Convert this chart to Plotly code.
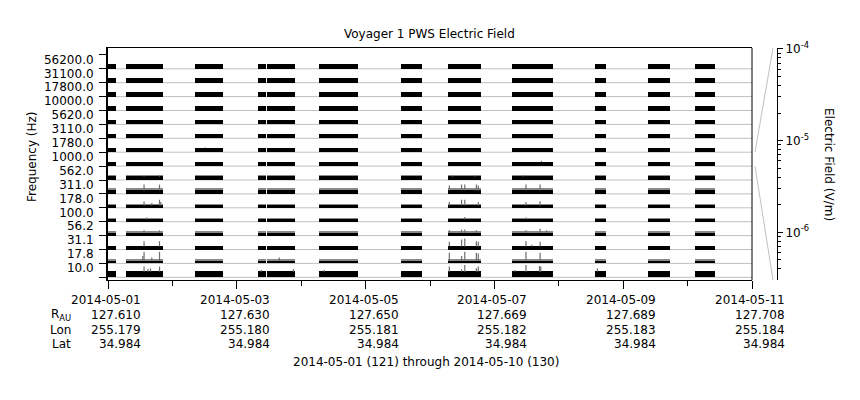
import numpy as np
import pandas as pd
import plotly.graph_objects as go

# ---------------- data ----------------
T0 = pd.Timestamp("2014-05-01")
T_END = pd.Timestamp("2014-05-11")

channels = ["10.0", "17.8", "31.1", "56.2", "100.0", "178.0", "311.0", "562.0",
            "1000.0", "1780.0", "3110.0", "5620.0", "10000.0", "17800.0", "31100.0", "56200.0"]

# data coverage intervals (days after 2014-05-01)
seg_start = [0.00, 0.28, 1.35, 2.33, 2.47, 3.28, 4.55, 5.28, 6.27, 7.56, 8.39, 9.11]
seg_end = [0.12, 0.85, 1.78, 2.45, 2.91, 3.88, 4.87, 5.79, 6.91, 7.74, 8.72, 9.43]

# typical (dense, black) electric field level per channel, V/m
band_level = [4.1e-6, 9.1e-7, 1.23e-6, 1.1e-6, 9.1e-7, 9.1e-7, 1.55e-6, 1.46e-6,
              1.84e-6, 1.84e-6, 1.84e-6, 1.84e-6, 1.84e-6, 1.84e-6, 1.84e-6, 1.84e-6]
# upper envelope of the noisy (gray) part, V/m (0 = none)
fuzz_level = [0, 2.2e-6, 0, 1.37e-6, 1.37e-6, 1.64e-6, 2.6e-6, 1.84e-6,
              0, 0, 0, 0, 0, 0, 0, 0]

# peaks (day after 2014-05-01, V/m) per channel
spikes_10_0 = [(0.56, 2.7e-5), (0.62, 1.0e-5), (0.66, 1.3e-5), (0.80, 2.7e-5), (2.38, 6.6e-6),
               (2.88, 1.0e-5), (3.36, 6.6e-6), (5.30, 2.7e-5), (5.49, 8.9e-6), (5.54, 5.4e-5),
               (5.72, 1.3e-5), (5.75, 2.7e-5), (6.32, 6.6e-6), (6.49, 5.4e-5), (6.70, 3.4e-5),
               (6.72, 2.7e-5), (7.60, 1.3e-5)]
spikes_17_8 = [(0.54, 6.6e-6), (0.56, 4.0e-5), (0.68, 3.7e-6), (0.80, 4.0e-5), (2.66, 3.7e-6),
               (5.30, 2.7e-5), (5.49, 6.6e-6), (5.54, 4.0e-5), (5.72, 2.7e-5), (5.75, 2.0e-5),
               (6.49, 4.0e-5), (6.71, 2.7e-5)]
spikes_31_1 = [(0.56, 1.0e-5), (0.80, 1.0e-5), (5.30, 7.4e-6), (5.49, 2.0e-5), (5.54, 3.0e-5),
               (5.72, 1.0e-5), (5.75, 7.4e-6), (6.49, 1.0e-5), (6.58, 2.2e-6), (6.71, 7.4e-6)]
spikes_56_2 = [(0.56, 2.8e-6), (0.80, 2.8e-6), (5.30, 2.8e-6), (5.49, 3.7e-6), (5.54, 3.7e-6),
               (5.72, 2.8e-6), (6.49, 2.8e-6), (6.71, 5.6e-6), (6.81, 2.8e-6)]
spikes_100 = [(0.60, 1.8e-6), (5.54, 2.2e-6), (6.49, 1.8e-6)]
spikes_178 = [(0.56, 4.4e-6), (0.68, 2.2e-6), (0.80, 8.9e-6), (0.82, 3.3e-6), (5.30, 3.3e-6),
              (5.49, 8.9e-6), (5.54, 8.9e-6), (5.75, 3.3e-6), (6.49, 3.3e-6), (6.71, 4.9e-6)]
spikes_311 = [(0.56, 1.5e-5), (0.80, 1.5e-5), (5.30, 1.0e-5), (5.49, 1.5e-5), (5.54, 1.5e-5),
              (5.72, 1.5e-5), (5.75, 1.0e-5), (6.49, 1.5e-5), (6.71, 1.5e-5)]
spikes_562 = [(0.56, 2.2e-6), (0.80, 2.2e-6), (5.35, 2.2e-6), (5.70, 2.2e-6), (6.45, 2.2e-6)]
spikes_1000 = [(6.73, 2.8e-6)]
spikes_1780 = [(1.51, 2.2e-6)]

tick_dates = ["2014-05-01", "2014-05-03", "2014-05-05", "2014-05-07", "2014-05-09", "2014-05-11"]
r_au = ["127.610", "127.630", "127.650", "127.669", "127.689", "127.708"]
lon = ["255.179", "255.180", "255.181", "255.182", "255.183", "255.184"]
lat = ["34.984", "34.984", "34.984", "34.984", "34.984", "34.984"]

# E-field axis (one channel row spans this range)
LOG_LO, LOG_HI = -6.52, -3.99

# ---------------- layout geometry ----------------
W, H = 860, 400
L, R, T, B = 108, 40, 48, 120
PW, PH = W - L - R, H - T - B


def px(xpix):
    return (xpix - L) / PW


def py(ypix):
    return (H - B - ypix) / PH


XDOM = px(752)
Y_LO, Y_HI = -0.194, 16.496
FONT = "DejaVu Sans"


def frac(e):
    return (np.log10(e) - LOG_LO) / (LOG_HI - LOG_LO)


def day(d):
    return (T0 + pd.Timedelta(days=d)).isoformat()


spike_map = {0: spikes_10_0, 1: spikes_17_8, 2: spikes_31_1, 3: spikes_56_2, 4: spikes_100,
             5: spikes_178, 6: spikes_311, 7: spikes_562, 8: spikes_1000, 9: spikes_1780}

fig = go.Figure()

centers = [day((s + e) / 2) for s, e in zip(seg_start, seg_end)]
widths = [(e - s) * 86400000 for s, e in zip(seg_start, seg_end)]

# gray noisy envelope
fx, fy, fb, fw = [], [], [], []
for i, (bl, fl) in enumerate(zip(band_level, fuzz_level)):
    if fl:
        for c, w in zip(centers, widths):
            fx.append(c); fw.append(w)
            fb.append(i + frac(bl)); fy.append(frac(fl) - frac(bl))
fig.add_trace(go.Bar(x=fx, y=fy, base=fb, width=fw, marker=dict(color="#8a8a8a", line_width=0),
                     showlegend=False, hoverinfo="skip"))

# spikes
sx, sy = [], []
for i, sp in spike_map.items():
    for d, e in sp:
        sx += [day(d), day(d), None]
        sy += [i + frac(band_level[i]) * 0.9, i + frac(e), None]
fig.add_trace(go.Scatter(x=sx, y=sy, mode="lines", line=dict(color="#6e6e6e", width=1.2),
                         showlegend=False, hoverinfo="skip"))

# dense black level
bx, by, bb, bw = [], [], [], []
for i, bl in enumerate(band_level):
    for c, w in zip(centers, widths):
        bx.append(c); bw.append(w); bb.append(i); by.append(frac(bl))
fig.add_trace(go.Bar(x=bx, y=by, base=bb, width=bw, marker=dict(color="black", line_width=0),
                     showlegend=False, hoverinfo="skip"))

# invisible trace for the E-field axis
fig.add_trace(go.Scatter(x=[day(5)], y=[1e-5], yaxis="y2", mode="markers",
                         marker=dict(opacity=0), showlegend=False, hoverinfo="skip"))

shapes = []
for i in range(len(channels)):
    shapes.append(dict(type="line", xref="x domain", yref="y", x0=0, x1=1, y0=i, y1=i,
                       line=dict(color="#c0c0c0", width=1), layer="below"))
# frame right
shapes.append(dict(type="line", xref="x domain", yref="paper", x0=1, x1=1, y0=0, y1=1,
                   line=dict(color="black", width=1)))
# connectors from the 1000 Hz row to the E-field axis
ci = channels.index("1000.0")
shapes.append(dict(type="line", xref="paper", yref="y", x0=px(755), x1=px(773), y0=ci + 1, y1=Y_HI,
                   line=dict(color="#c0c0c0", width=1)))
shapes.append(dict(type="line", xref="paper", yref="y", x0=px(755), x1=px(773), y0=ci, y1=Y_LO,
                   line=dict(color="#c0c0c0", width=1)))

ann = []
f12 = dict(family=FONT, size=12, color="black")
ann.append(dict(text="Voyager 1 PWS Electric Field", xref="paper", yref="paper", x=px(429), y=py(34),
                showarrow=False, font=f12, xanchor="center", yanchor="middle"))
ann.append(dict(text="Frequency (Hz)", xref="paper", yref="paper", x=px(32), y=py(157),
                showarrow=False, font=f12, textangle=-90, xanchor="center", yanchor="middle"))
ann.append(dict(text="Electric Field (V/m)", xref="paper", yref="paper", x=px(829), y=py(164),
                showarrow=False, font=f12, textangle=90, xanchor="center", yanchor="middle"))
rows_y = [300, 315, 330, 344]
for j, d in enumerate(tick_dates):
    for txt, yy in zip([d, r_au[j], lon[j], lat[j]], rows_y):
        ann.append(dict(text=txt, xref="x", yref="paper", x=d, y=py(yy), xanchor="right",
                        yanchor="middle", xshift=35, showarrow=False, font=f12))
for txt, yy in zip(["R<sub>AU</sub>", "Lon", "Lat"], rows_y[1:]):
    ann.append(dict(text=txt, xref="paper", yref="paper", x=px(73), y=py(yy), xanchor="right",
                    yanchor="middle", showarrow=False, font=f12))
ann.append(dict(text="2014-05-01 (121) through 2014-05-10 (130)", xref="paper", yref="paper",
                x=px(426), y=py(362), xanchor="center", yanchor="middle", showarrow=False, font=f12))

odd_days = [(T0 + pd.Timedelta(days=k)).isoformat() for k in range(1, 10, 2)]
minor_log = [k * 10.0 ** d for d in (-7, -6, -5) for k in range(2, 10)
             if LOG_LO < np.log10(k * 10.0 ** d) < LOG_HI]

fig.update_layout(
    width=W, height=H, margin=dict(l=L, r=R, t=T, b=B, autoexpand=False),
    paper_bgcolor="white", plot_bgcolor="white", barmode="overlay", bargap=0,
    font=dict(family=FONT, size=12, color="black"),
    shapes=shapes, annotations=ann, showlegend=False,
    xaxis=dict(type="date", domain=[0, XDOM], range=[T0.isoformat(), T_END.isoformat()],
               tickmode="array", tickvals=tick_dates, showticklabels=False,
               ticks="outside", ticklen=8, tickcolor="black", tickwidth=1,
               minor=dict(tickmode="array", tickvals=odd_days, ticks="outside", ticklen=5,
                          tickcolor="black", tickwidth=1),
               showline=True, linecolor="black", linewidth=1, mirror=True, automargin=False,
               showgrid=False, zeroline=False, fixedrange=True),
    yaxis=dict(range=[Y_LO, Y_HI], tickmode="array",
               tickvals=[i + 0.67 for i in range(len(channels))], ticktext=channels,
               ticks="outside", ticklen=10, tickcolor="rgba(0,0,0,0)",
               minor=dict(tickmode="array", tickvals=list(range(len(channels) + 1)),
                          ticks="outside", ticklen=7, tickcolor="black", tickwidth=1),
               showline=True, linecolor="black", linewidth=2, automargin=False,
               showgrid=False, zeroline=False, tickfont=f12, fixedrange=True),
    yaxis2=dict(type="log", range=[LOG_LO, LOG_HI], overlaying="y", anchor="free",
                position=px(777), side="right", tickmode="array",
                tickvals=[1e-6, 1e-5, 1e-4],
                ticktext=["10<sup>-6</sup>", "10<sup>-5</sup>", "10<sup>-4</sup>"],
                ticks="outside", ticklen=5, tickcolor="black",
                minor=dict(tickmode="array", tickvals=minor_log, ticks="outside", ticklen=3,
                           tickcolor="black"),
                showline=True, linecolor="black", linewidth=1, showgrid=False, zeroline=False,
                automargin=False, tickfont=f12, fixedrange=True),
)

fig.write_html("out.html", config={"displayModeBar": False},
               post_script="document.body.style.margin='0px';document.body.style.padding='0px';")
